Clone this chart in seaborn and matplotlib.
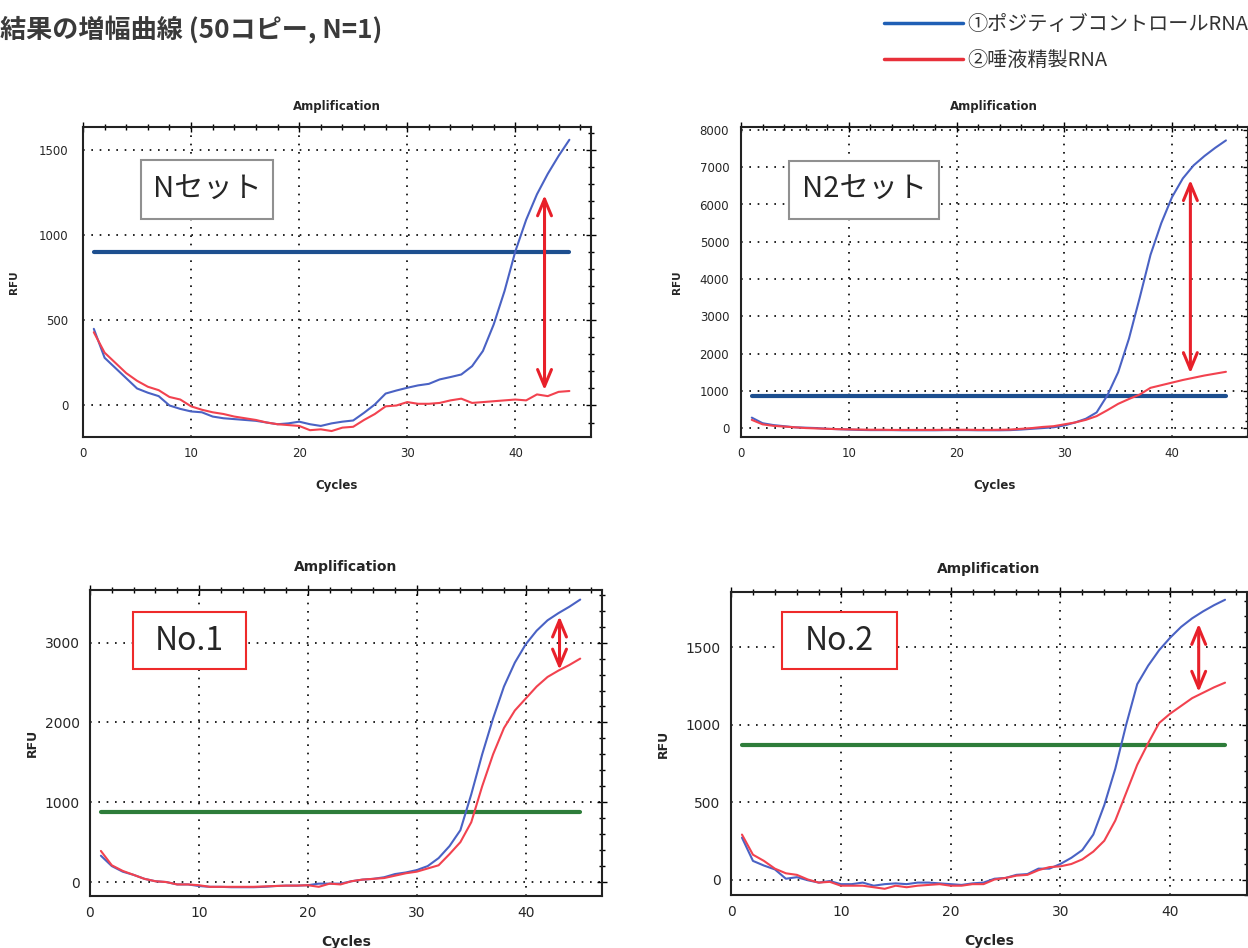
import numpy as np
import pandas as pd
import seaborn as sns
import matplotlib.pyplot as plt
from matplotlib.lines import Line2D
from matplotlib.ticker import MultipleLocator

sns.set_style("white")
plt.rcParams['font.family'] = ['DejaVu Sans', 'Noto Sans CJK JP']

cycles = list(range(1, 46))

# Nセット
n_blue = [450, 280, 220, 160, 100, 75, 55, 0, -20, -35, -40, -65, -75, -80, -85,
          -90, -100, -110, -105, -95, -110, -120, -105, -95, -88, -43, 6, 70, 88, 104,
          118, 127, 153, 167, 182, 231, 320, 476, 672, 905, 1090, 1240, 1360, 1465, 1560]
n_red = [430, 310, 250, 190, 145, 110, 90, 50, 35, -5, -25, -40, -50, -65, -75,
         -85, -100, -110, -115, -120, -145, -140, -150, -130, -125, -85, -50, -5, 0, 20,
         10, 10, 15, 30, 40, 15, 20, 25, 30, 35, 30, 65, 55, 80, 85]

# N2セット
n2_blue = [280, 130, 80, 50, 20, 10, 0, -20, -30, -40, -50, -55, -55, -55, -60,
           -60, -60, -60, -55, -55, -55, -60, -60, -60, -55, -40, -20, 0, 20, 70,
           150, 250, 420, 880, 1500, 2400, 3500, 4650, 5500, 6200, 6700, 7050, 7300, 7520, 7720]
n2_red = [220, 100, 60, 40, 20, 0, -10, -20, -30, -35, -40, -45, -45, -50, -50,
          -50, -50, -50, -45, -45, -45, -50, -50, -45, -40, -20, 0, 30, 50, 100,
          150, 220, 320, 480, 650, 780, 900, 1080, 1150, 1220, 1290, 1350, 1410, 1460, 1510]

# No.1
no1_blue = [330, 200, 130, 90, 40, 10, 0, -30, -30, -50, -60, -60, -65, -65, -65,
            -60, -50, -45, -45, -40, -20, -20, -20, 10, 30, 40, 60, 100, 120, 150,
            200, 300, 450, 650, 1100, 1600, 2050, 2450, 2750, 2980, 3150, 3280, 3370, 3450, 3540]
no1_red = [390, 210, 140, 90, 40, 10, 0, -30, -30, -40, -60, -60, -60, -60, -60,
           -55, -50, -45, -45, -40, -60, -20, -30, 10, 30, 40, 50, 80, 110, 130,
           170, 210, 350, 500, 750, 1200, 1600, 1930, 2150, 2300, 2450, 2570, 2650, 2720, 2800]

# No.2
no2_blue = [270, 120, 90, 65, 5, 15, -5, -20, -10, -30, -30, -20, -40, -30, -25,
            -30, -20, -20, -25, -30, -35, -25, -20, 5, 10, 30, 35, 70, 70, 100,
            140, 190, 290, 480, 714, 1000, 1260, 1380, 1480, 1560, 1630, 1685, 1730, 1770, 1805]
no2_red = [290, 160, 120, 70, 40, 30, 0, -20, -15, -40, -40, -40, -50, -60, -40,
           -50, -40, -35, -30, -40, -40, -30, -30, 0, 10, 25, 30, 60, 80, 85,
           100, 130, 180, 250, 380, 560, 740, 880, 1010, 1070, 1120, 1170, 1205, 1240, 1270]

panel_names = ["Nセット", "N2セット", "No.1", "No.2"]
blue_series = [n_blue, n2_blue, no1_blue, no2_blue]
red_series = [n_red, n2_red, no1_red, no2_red]
thresholds = [900, 860, 874, 870]
arrow_x = [42.7, 41.7, 43.1, 42.6]
arrow_span = [(90, 1235), (1470, 6660), (2660, 3330), (1210, 1650)]
y_limits = [(-185, 1635), (-240, 8080), (-175, 3660), (-100, 1855)]
y_major = [500, 1000, 1000, 500]
y_minor = [100, 200, 200, 100]
series_labels = ["①ポジティブコントロールRNA", "②唾液精製RNA"]

curve_colors = {"blue": "#4a62c4", "red": "#f2424f"}
thr_colors = ["#1d4f8f", "#1d4f8f", "#2e7d3a", "#2e7d3a"]
box_edges = ["#909090", "#909090", "#ee2a2a", "#ee2a2a"]

W, H = 1248, 948
fig = plt.figure(figsize=(12.48, 9.48), dpi=100)

# pixel boxes: left, right, top, bottom
boxes = [(83, 591, 127, 437), (741, 1247.5, 127, 437), (90, 602, 590, 896), (731, 1247, 592, 895)]
label_boxes = [(141, 273, 160, 219), (789, 939, 161, 219), (133, 246, 612, 669), (782, 897, 612, 669)]
font_sizes = [8.5, 8.5, 10, 10]
title_pads = [12, 12, 14, 14]
tick_pads = [7, 5, 4, 4]
xlabel_pads = [14, 14, 11, 11]
ylabel_pads = [14, 13, 4, 11]
name_sizes = [21, 21, 23, 23]

for i in range(4):
    l, r, t, b = boxes[i]
    ax = fig.add_axes([l / W, 1 - b / H, (r - l) / W, (b - t) / H])
    df = pd.DataFrame({
        "Cycles": cycles * 2,
        "RFU": blue_series[i] + red_series[i],
        "series": ["blue"] * 45 + ["red"] * 45,
    })
    sns.lineplot(data=df, x="Cycles", y="RFU", hue="series", palette=curve_colors,
                 linewidth=1.5, legend=False, ax=ax, zorder=3)
    ax.plot([1, 45], [thresholds[i]] * 2, color=thr_colors[i], linewidth=3, zorder=2)
    y0, y1 = arrow_span[i]
    ax.annotate("", xy=(arrow_x[i], y1), xytext=(arrow_x[i], y0),
                arrowprops=dict(arrowstyle="<->,head_length=1.2,head_width=0.5",
                                color="#e8202a", lw=2.2, shrinkA=0, shrinkB=0), zorder=4)

    ax.set_xlim(0, 47)
    ax.set_ylim(*y_limits[i])
    ax.xaxis.set_major_locator(MultipleLocator(10))
    ax.xaxis.set_minor_locator(MultipleLocator(2))
    ax.yaxis.set_major_locator(MultipleLocator(y_major[i]))
    ax.yaxis.set_minor_locator(MultipleLocator(y_minor[i]))
    ax.tick_params(which="both", direction="inout", top=True, right=True,
                   labelsize=font_sizes[i], color="black")
    ax.tick_params(axis="y", pad=tick_pads[i])
    ax.tick_params(which="major", length=7, width=1)
    ax.tick_params(which="minor", length=4, width=1)
    ax.grid(True, which="major", color="black", linestyle=(0, (1, 4)), linewidth=1.2)
    for s in ax.spines.values():
        s.set_color("#222222")
        s.set_linewidth(1.5)
    ax.set_title("Amplification", fontsize=font_sizes[i], fontweight="bold", pad=title_pads[i])
    ax.set_xlabel("Cycles", fontsize=font_sizes[i], fontweight="bold", labelpad=xlabel_pads[i])
    ax.set_ylabel("RFU", fontsize=font_sizes[i] - 1, fontweight="bold", labelpad=ylabel_pads[i])

    bl, br, bt, bb = label_boxes[i]
    fig.text((bl + br) / 2 / W, 1 - (bt + bb) / 2 / H, panel_names[i],
             fontsize=name_sizes[i], family=["Noto Sans CJK JP", "DejaVu Sans"],
             ha="center", va="center", zorder=6)
    fig.patches.append(plt.Rectangle((bl / W, 1 - bb / H), (br - bl) / W, (bb - bt) / H,
                                     transform=fig.transFigure, facecolor="white",
                                     edgecolor=box_edges[i], linewidth=1.5, zorder=5))

fig.text(0.0, 1 - 30 / H, "結果の増幅曲線 (50コピー, N=1)", fontsize=18.8, fontweight="bold",
         family=["Noto Sans CJK JP", "DejaVu Sans"], color="#3a3a3a", ha="left", va="center")

handles = [Line2D([], [], color="#1f5fb5", linewidth=2.5),
           Line2D([], [], color="#e8303a", linewidth=2.5)]
leg = fig.legend(handles, series_labels, loc="upper right", bbox_to_anchor=(1.015, 1.004),
                 frameon=False, handlelength=3.9, handletextpad=0.25, labelspacing=0.72,
                 prop={"family": ["Noto Sans CJK JP", "DejaVu Sans"], "size": 14.5})
for txt in leg.get_texts():
    txt.set_color("#333333")

fig.savefig("out.png", dpi=100)
